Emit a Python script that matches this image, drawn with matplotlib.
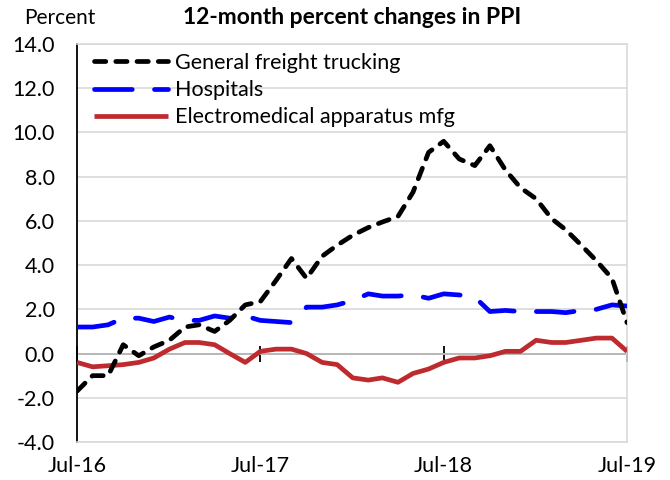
import matplotlib
matplotlib.use("Agg")
import matplotlib.pyplot as plt
import pandas as pd

plt.rcParams['font.family'] = ['Lato', 'DejaVu Sans']
plt.rcParams['axes.unicode_minus'] = False

months = pd.date_range("2016-07-01", "2019-07-01", freq="MS")

trucking = [-1.7, -1.0, -1.0, 0.4, -0.1, 0.3, 0.6, 1.2, 1.3, 1.0, 1.5, 2.2,
            2.35, 3.3, 4.3, 3.4, 4.4, 4.9, 5.35, 5.7, 5.95, 6.2, 7.3, 9.1,
            9.6, 8.8, 8.5, 9.4, 8.3, 7.5, 7.0, 6.1, 5.6, 4.9, 4.2, 3.4, 1.4]
hospitals = [1.2, 1.2, 1.3, 1.6, 1.6, 1.45, 1.65, 1.5, 1.5, 1.7, 1.6, 1.7,
             1.5, 1.45, 1.4, 2.1, 2.1, 2.2, 2.4, 2.7, 2.6, 2.6, 2.65, 2.5,
             2.7, 2.65, 2.55, 1.9, 1.95, 1.9, 1.9, 1.9, 1.85, 1.95, 2.0, 2.2, 2.15]
electromed = [-0.4, -0.6, -0.55, -0.5, -0.4, -0.2, 0.2, 0.5, 0.5, 0.4, 0.0, -0.4,
              0.1, 0.2, 0.2, 0.0, -0.4, -0.5, -1.1, -1.2, -1.1, -1.3, -0.9, -0.7,
              -0.4, -0.2, -0.2, -0.1, 0.1, 0.1, 0.6, 0.5, 0.5, 0.6, 0.7, 0.7, 0.1]

series_labels = ["General freight trucking", "Hospitals", "Electromedical apparatus mfg"]
xtick_dates = pd.to_datetime(["2016-07-01", "2017-07-01", "2018-07-01", "2019-07-01"])
xtick_labels = ["Jul-16", "Jul-17", "Jul-18", "Jul-19"]
yticks = [-4, -2, 0, 2, 4, 6, 8, 10, 12, 14]

W, H = 670, 480
fig = plt.figure(figsize=(W / 100, H / 100), dpi=100)
ax = fig.add_axes([77 / W, 1 - 442 / H, 550 / W, 398 / H])

lw = 3.4
ax.plot(months, trucking, color="black", lw=lw, dashes=(2.4, 2.1),
        dash_capstyle="round", label=series_labels[0], zorder=4)
ax.plot(months, hospitals, color="#0000FF", lw=lw, dashes=(8.0, 4.7),
        dash_capstyle="round", label=series_labels[1], zorder=3)
ax.plot(months, electromed, color="#BE2A2E", lw=lw, solid_capstyle="butt",
        label=series_labels[2], zorder=3)

ax.set_xlim(months[0], months[-1])
ax.set_ylim(-4, 14)
ax.set_yticks(yticks)
ax.set_yticklabels([f"{v:.1f}" for v in yticks])
ax.grid(axis="y", color="#D9D9D9", lw=1.2, zorder=0)
ax.tick_params(axis="y", length=0, pad=16, labelsize=15.5)

ax.set_xticks(xtick_dates)
ax.set_xticklabels(xtick_labels)
ax.tick_params(axis="x", length=0, pad=10, labelsize=15.5)

for s in ["top", "right", "bottom"]:
    ax.spines[s].set_color("#D9D9D9")
    ax.spines[s].set_linewidth(1.2)
ax.spines["left"].set_color("black")
ax.spines["left"].set_linewidth(1.3)

sec = ax.secondary_xaxis(4 / 18)
sec.set_xticks(xtick_dates)
sec.tick_params(axis="x", direction="inout", length=12, width=1.3,
                labelbottom=False, color="black")
sec.spines["bottom"].set_color("black")
sec.spines["bottom"].set_linewidth(1.3)

fig.text(60 / W, 1 - 18 / H, "Percent", ha="center", va="center", fontsize=15)
fig.text(352 / W, 1 - 18 / H, "12-month percent changes in PPI", ha="center",
         va="center", fontsize=16.5, fontweight="bold")

leg = ax.legend(loc="upper left", bbox_to_anchor=(94 / W, 1 - 53 / H),
                bbox_transform=fig.transFigure, frameon=False, fontsize=15.5,
                handlelength=3.45, handletextpad=0.3, labelspacing=0.33,
                borderpad=0, borderaxespad=0)

fig.savefig("out.png", dpi=100)
